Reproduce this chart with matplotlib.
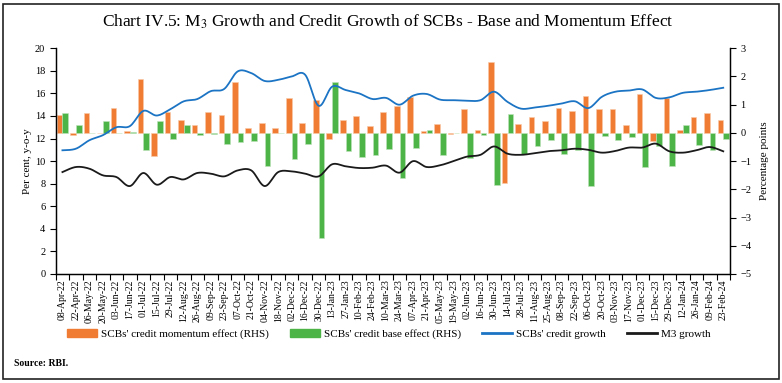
import numpy as np
import matplotlib
matplotlib.use("Agg")
import matplotlib.pyplot as plt
from matplotlib.patches import Rectangle
from matplotlib.lines import Line2D
from matplotlib.patches import Patch

plt.rcParams['font.family'] = ['Liberation Serif', 'DejaVu Serif']
plt.rcParams['mathtext.fontset'] = 'stix'

# fortnightly reporting dates
dates = ['08-Apr-22', '22-Apr-22', '06-May-22', '20-May-22', '03-Jun-22', '17-Jun-22',
         '01-Jul-22', '15-Jul-22', '29-Jul-22', '12-Aug-22', '26-Aug-22', '09-Sep-22',
         '23-Sep-22', '07-Oct-22', '21-Oct-22', '04-Nov-22', '18-Nov-22', '02-Dec-22',
         '16-Dec-22', '30-Dec-22', '13-Jan-23', '27-Jan-23', '10-Feb-23', '24-Feb-23',
         '10-Mar-23', '24-Mar-23', '07-Apr-23', '21-Apr-23', '05-May-23', '19-May-23',
         '02-Jun-23', '16-Jun-23', '30-Jun-23', '14-Jul-23', '28-Jul-23', '11-Aug-23',
         '25-Aug-23', '08-Sep-23', '22-Sep-23', '06-Oct-23', '20-Oct-23', '03-Nov-23',
         '17-Nov-23', '01-Dec-23', '15-Dec-23', '29-Dec-23', '12-Jan-24', '26-Jan-24',
         '09-Feb-24', '23-Feb-24']

# RHS, percentage points
momentum = [0.62, -0.09, 0.71, -0.02, 0.88, 0.06, 1.91, -0.81, 0.74, 0.45,
            0.27, 0.74, 0.62, 1.82, 0.18, 0.34, 0.16, 1.22, 0.36, 1.15,
            -0.22, 0.45, 0.59, 0.24, 0.74, 0.95, 1.29, 0.06, 0.30, -0.05,
            0.85, 0.10, 2.52, -1.76, 0.31, 0.57, 0.41, 0.90, 0.79, 1.31,
            0.83, 0.85, 0.27, 1.37, -0.28, 1.22, 0.09, 0.56, 0.70, 0.45]
base = [0.71, 0.28, -0.02, 0.41, -0.02, 0.02, -0.62, 0.41, -0.23, 0.29,
        -0.07, -0.05, -0.39, -0.32, -0.28, -1.18, 0.01, -0.94, -0.39, -3.71,
        1.82, -0.64, -0.85, -0.78, -0.56, -1.61, -0.53, 0.10, -0.77, 0.01,
        -0.89, -0.07, -1.83, 0.67, -0.74, -0.45, -0.24, -0.73, -0.61, -1.89,
        -0.10, -0.26, -0.16, -1.20, -0.48, -1.16, 0.28, -0.43, -0.60, -0.21]

# LHS, per cent y-o-y
credit_growth = [10.96, 11.1, 11.85, 12.3, 13.0, 13.1, 14.45, 14.04, 14.6, 15.3,
                 15.5, 16.2, 16.4, 17.95, 17.8, 17.1, 17.2, 17.5, 17.65, 14.9,
                 16.6, 16.3, 16.0, 15.5, 15.6, 15.0, 15.8, 15.95, 15.45, 15.4,
                 15.35, 15.4, 16.15, 15.25, 14.65, 14.75, 14.9, 15.1, 15.3, 14.7,
                 15.7, 16.15, 16.25, 16.35, 15.6, 15.65, 16.05, 16.15, 16.3, 16.5]
m3_growth = [9.03, 9.48, 9.33, 8.74, 8.59, 7.79, 8.95, 7.91, 8.59, 8.38,
             8.95, 8.89, 8.65, 9.18, 9.18, 7.79, 9.03, 9.09, 8.89, 8.65,
             9.72, 9.54, 9.39, 9.42, 9.6, 8.98, 10.0, 9.48, 9.63, 10.0,
             10.4, 10.56, 11.3, 10.66, 10.56, 10.7, 10.88, 10.96, 11.1, 11.0,
             10.75, 10.9, 11.2, 11.2, 11.55, 10.87, 10.75, 10.96, 11.25, 10.87]

ORANGE = '#F07C33'
GREEN = '#4DB447'
BLUE = '#1C74C4'
BLACK = '#1A1A1A'


def smooth(x, y, n=12):
    # catmull-rom curve through the points, like a spreadsheet smoothed line
    x = np.asarray(x, float)
    y = np.asarray(y, float)
    px = np.concatenate([[x[0]], x, [x[-1]]])
    py = np.concatenate([[y[0]], y, [y[-1]]])
    t = np.linspace(0, 1, n, endpoint=False)
    xs, ys = [], []
    for i in range(1, len(px) - 2):
        for p, out in ((px, xs), (py, ys)):
            p0, p1, p2, p3 = p[i - 1], p[i], p[i + 1], p[i + 2]
            out.extend(0.5 * (2 * p1 + (-p0 + p2) * t
                              + (2 * p0 - 5 * p1 + 4 * p2 - p3) * t ** 2
                              + (-p0 + 3 * p1 - 3 * p2 + p3) * t ** 3))
    xs.append(x[-1])
    ys.append(y[-1])
    return np.array(xs), np.array(ys)


fig = plt.figure(figsize=(7.82, 3.83), dpi=100)
ax1 = fig.add_axes([0.0712, 0.2846, 0.8623, 0.5894])
ax2 = ax1.twinx()

x = np.arange(len(dates))
w = 0.42
ax2.bar(x - 0.215, momentum, w, color=ORANGE, edgecolor='#F8C9A8', linewidth=0.4)
ax2.bar(x + 0.215, base, w, color=GREEN, edgecolor='#BFE3BC', linewidth=0.4)
ax2.set_ylim(-5, 3)
ax2.set_yticks(range(-5, 4))

sx, sy = smooth(x, credit_growth)
ax1.plot(sx, sy, color=BLUE, lw=1.3)
sx, sy = smooth(x, m3_growth)
ax1.plot(sx, sy, color=BLACK, lw=1.3)
ax1.set_ylim(0, 20)
ax1.set_yticks(range(0, 21, 2))
ax1.set_xlim(-0.5, len(dates) - 0.5)
ax1.set_zorder(ax2.get_zorder() + 1)
ax1.patch.set_visible(False)

ax1.set_xticks(x)
ax1.set_xticklabels(dates, rotation=90, fontsize=7)
ax1.set_xticks(np.arange(-0.5, len(dates), 1), minor=True)
ax1.tick_params(axis='x', which='major', length=0, pad=4)
ax1.tick_params(axis='x', which='minor', length=4, width=0.8, direction='out')
ax1.tick_params(axis='y', labelsize=7.5, length=4, width=0.8)
ax2.tick_params(axis='y', labelsize=7.5, length=4, width=0.8)

for a in (ax1, ax2):
    a.spines['top'].set_visible(False)
    for s in ('left', 'right', 'bottom'):
        a.spines[s].set_linewidth(0.9)

ax1.set_ylabel('Per cent, y-o-y', fontsize=8, labelpad=2)
ax2.set_ylabel('Percentage points', fontsize=8, labelpad=6)

fig.text(0.496, 0.943, 'Chart IV.5: M$_3$ Growth and Credit Growth of SCBs - Base and Momentum Effect',
         ha='center', va='center', fontsize=12.5)

handles = [Patch(color=ORANGE), Patch(color=GREEN),
           Line2D([], [], color=BLUE, lw=2), Line2D([], [], color=BLACK, lw=2)]
labels = ["SCBs' credit momentum effect (RHS)", "SCBs' credit base effect (RHS)",
          "SCBs' credit growth", 'M3 growth']
fig.legend(handles, labels, loc='center', bbox_to_anchor=(0.497, 0.128), ncol=4,
           frameon=False, fontsize=8, handlelength=2.7, handleheight=0.8,
           columnspacing=1.9, handletextpad=0.35)

fig.text(0.018, 0.052, 'Source: RBI.', fontsize=7, fontweight='semibold', va='center')

fig.add_artist(Rectangle((0.004, 0.01), 0.992, 0.979, transform=fig.transFigure,
                         fill=False, edgecolor='#222222', lw=1.2))

fig.savefig('out.png', dpi=100)
